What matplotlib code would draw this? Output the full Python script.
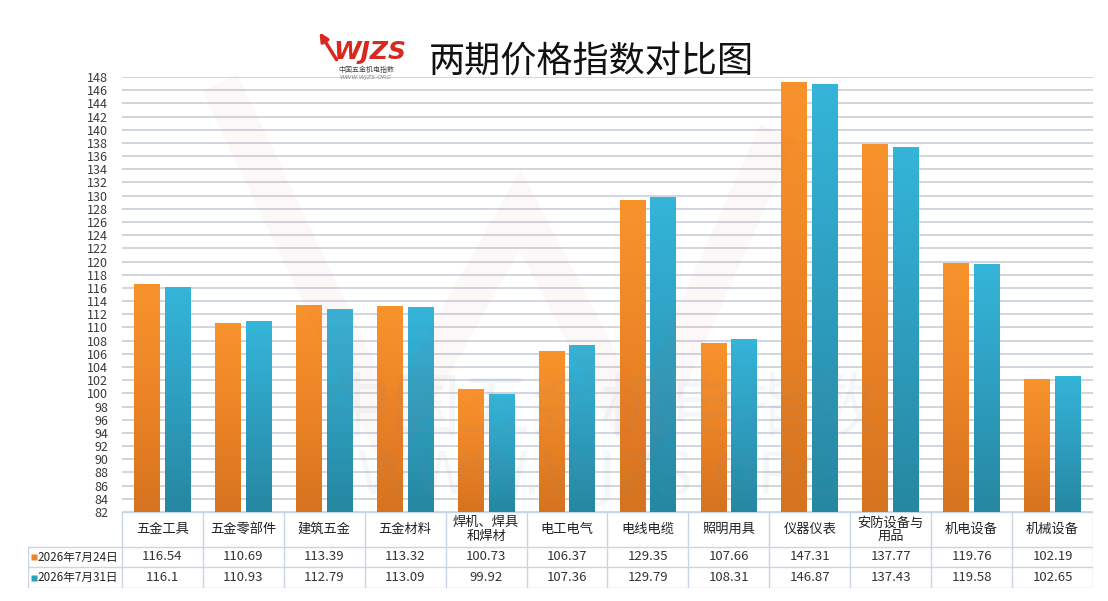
import numpy as np
import matplotlib
matplotlib.use('Agg')
import matplotlib.pyplot as plt
from matplotlib.colors import LinearSegmentedColormap
from matplotlib.lines import Line2D

plt.rcParams['font.family'] = ['Noto Sans CJK SC', 'DejaVu Sans']

# ---------------- data ----------------
categories = ['五金工具', '五金零部件', '建筑五金', '五金材料', '焊机、焊具\n和焊材', '电工电气',
              '电线电缆', '照明用具', '仪器仪表', '安防设备与\n用品', '机电设备', '机械设备']
series_names = ['2026年7月24日', '2026年7月31日']
values_0724 = [116.54, 110.69, 113.39, 113.32, 100.73, 106.37, 129.35, 107.66, 147.31, 137.77, 119.76, 102.19]
values_0731 = [116.1, 110.93, 112.79, 113.09, 99.92, 107.36, 129.79, 108.31, 146.87, 137.43, 119.58, 102.65]
y_ticks = list(range(82, 149, 2))
title = '两期价格指数对比图'

# ---------------- layout ----------------
W, H = 1108, 601
def px(l, t, r, b):
    return [l / W, 1 - b / H, (r - l) / W, (b - t) / H]

fig = plt.figure(figsize=(W / 100, H / 100), dpi=100)
fig.patch.set_facecolor('white')

ax = fig.add_axes(px(122, 77, 1093, 512))
n = len(categories)
x = np.arange(n) + 0.5
bw, off = 0.32, 0.19

orange_cols = ['#F8932C', '#EC8426', '#D6731F']
blue_cols = ['#34B5D9', '#2E9EBF', '#2687A1']
orange_cmap = LinearSegmentedColormap.from_list('o', orange_cols)
blue_cmap = LinearSegmentedColormap.from_list('b', blue_cols)
grad = np.linspace(0, 1, 256).reshape(-1, 1)

ymin, ymax = y_ticks[0], y_ticks[-1]
for vals, xs, cmap, col in [(values_0724, x - off, orange_cmap, orange_cols[0]),
                            (values_0731, x + off, blue_cmap, blue_cols[0])]:
    bars = ax.bar(xs, vals, bw, color=col, zorder=3, linewidth=0)
    for rect in bars:
        x0 = rect.get_x()
        top = rect.get_height()
        im = ax.imshow(grad, cmap=cmap, aspect='auto', extent=[x0, x0 + bw, ymin, top],
                       zorder=3.5, interpolation='bilinear')
        im.set_clip_path(rect)

ax.set_xlim(0, n)
ax.set_ylim(ymin, ymax)
ax.set_yticks(y_ticks)
ax.set_yticklabels([str(t) for t in y_ticks], fontsize=9, color='#3A3A3A')
ax.tick_params(axis='y', length=0, pad=10)
ax.set_xticks([])
ax.yaxis.grid(True, color='#D1D6DF', lw=1.4)
ax.set_axisbelow(True)
for s in ax.spines.values():
    s.set_visible(False)
ax.set_facecolor('none')

# ---------------- watermark ----------------
fig.lines.append(Line2D(np.array([228, 390, 520, 640, 770]) / W,
                        1 - np.array([100, 440, 210, 440, 150]) / H,
                        transform=fig.transFigure, color='#E05050', alpha=0.04, lw=28,
                        solid_joinstyle='miter', zorder=0))
fig.text(600 / W, 1 - 410 / H, '中国五金机电指数', fontsize=50, color='#7A8A9A', alpha=0.07,
         ha='center', va='center', zorder=5)
fig.text(600 / W, 1 - 478 / H, 'WWW.WJZS.ORG', fontsize=42, color='#7A8A9A', alpha=0.07,
         ha='center', va='center', zorder=5, family=['DejaVu Sans'])

# ---------------- title / logo ----------------
fig.text(591 / W, 1 - 62 / H, title, fontsize=26, color='#111111', ha='center', va='center',
         fontweight='medium')
fig.text(370 / W, 1 - 52 / H, 'WJZS', fontsize=18, color='#D9281E', fontweight='bold',
         style='italic', ha='center', va='center', family=['DejaVu Sans'])
fig.add_artist(matplotlib.patches.FancyArrowPatch(
    (338 / W, 1 - 62 / H), (318 / W, 1 - 30 / H), transform=fig.transFigure,
    arrowstyle='-|>', mutation_scale=12, color='#D9281E', lw=2.5))
fig.text(366 / W, 1 - 70 / H, '中国五金机电指数', fontsize=5, color='#444444', ha='center', va='center')
fig.text(366 / W, 1 - 78 / H, 'WWW.WJZS.ORG', fontsize=4.5, color='#888888', ha='center',
         va='center', style='italic', family=['DejaVu Sans'])

# ---------------- data table ----------------
tax = fig.add_axes(px(28, 512, 1093, 588))
cw = (1093 - 122) / n
left_w = (122 - 28) / cw
tax.set_xlim(-left_w, n)
tax.set_ylim(76, 0)
tax.axis('off')
bc = '#C9D5E2'
tax.plot([0, n], [0, 0], color=bc, lw=1)
for yy in (35, 55, 76):
    tax.plot([-left_w, n], [yy, yy], color=bc, lw=1)
tax.plot([-left_w, -left_w], [35, 76], color=bc, lw=1)
for i in range(n + 1):
    tax.plot([i, i], [0, 76], color=bc, lw=1)

for i, c in enumerate(categories):
    tax.text(i + 0.5, 17.5, c, ha='center', va='center', fontsize=9.5, color='#222222',
             linespacing=1.05)

rows = [(values_0724, orange_cols[1], 45), (values_0731, blue_cols[1], 65.5)]
for (vals, col, yy), name in zip(rows, series_names):
    tax.plot([-left_w + 0.07], [yy], marker='s', ms=5, color=col, mec='none')
    tax.text(-left_w + 0.12, yy, name, ha='left', va='center', fontsize=8.4, color='#222222')
    for i, v in enumerate(vals):
        tax.text(i + 0.5, yy, f'{v:g}', ha='center', va='center', fontsize=9.5, color='#333333')

fig.savefig('out.png', dpi=100)
